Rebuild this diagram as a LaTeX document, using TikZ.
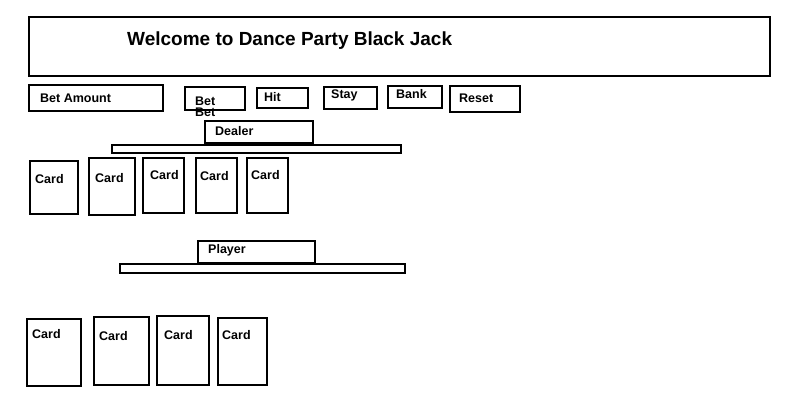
\documentclass[tikz,border=0pt]{standalone}
\usepackage{fontspec}
\setmainfont{Liberation Sans}
\begin{document}
\begin{tikzpicture}[x=1pt,y=-1pt,
  frame/.style={draw=black,line width=1.8pt,inner sep=0pt,outer sep=0pt,anchor=north west},
  lbl/.style={font=\bfseries\fontsize{12.5}{13}\selectfont,inner sep=0pt,anchor=west},
  ttl/.style={font=\bfseries\fontsize{19}{21}\selectfont,inner sep=0pt,anchor=west}]
\useasboundingbox[fill=white] (0,0) rectangle (800,400);
\newcommand\mybox[5]{\node[frame,minimum width={#4-#2},minimum height={#5-#3}] (#1) at (#2,#3) {};}
% title
\mybox{title}{29}{17}{770}{76}
\node[ttl] (titletext) at (127,41) {Welcome to Dance Party Black Jack};
% controls
\mybox{betamt}{29}{85}{163}{111}
\node[lbl] (betamttext) at (40,98) {Bet Amount};
\mybox{bet}{185}{87}{245}{110}
\node[lbl] (bettext) at (195,101) {Bet};
\node[lbl] (bettext2) at (195,112) {Bet};
\mybox{hit}{257}{88}{308}{108}
\node[lbl] (hittext) at (264,97) {Hit};
\mybox{stay}{324}{87}{377}{109}
\node[lbl] (staytext) at (331,95) {Stay};
\mybox{bank}{388}{86}{442}{108}
\node[lbl] (banktext) at (396,94) {Bank};
\mybox{reset}{450}{86}{520}{112}
\node[lbl] (resettext) at (459,98) {Reset};
% dealer
\mybox{dealer}{205}{121}{313}{143}
\node[lbl] (dealertext) at (215,131) {Dealer};
\mybox{dealerbar}{112}{145}{401}{153}
\mybox{dc1}{30}{161}{78}{214}
\node[lbl] (dc1t) at (35,179) {Card};
\mybox{dc2}{89}{158}{135}{215}
\node[lbl] (dc2t) at (95,178) {Card};
\mybox{dc3}{143}{158}{184}{213}
\node[lbl] (dc3t) at (150,175) {Card};
\mybox{dc4}{196}{158}{237}{213}
\node[lbl] (dc4t) at (200,176) {Card};
\mybox{dc5}{247}{158}{288}{213}
\node[lbl] (dc5t) at (251,175) {Card};
% player
\mybox{player}{198}{241}{315}{263}
\node[lbl] (playertext) at (208,250) {Player};
\mybox{playerbar}{120}{264}{405}{273}
\mybox{pc1}{27}{319}{81}{386}
\node[lbl] (pc1t) at (32,334) {Card};
\mybox{pc2}{94}{317}{149}{385}
\node[lbl] (pc2t) at (99,336) {Card};
\mybox{pc3}{157}{316}{209}{385}
\node[lbl] (pc3t) at (164,335) {Card};
\mybox{pc4}{218}{318}{267}{385}
\node[lbl] (pc4t) at (222,335) {Card};
\end{tikzpicture}
\end{document}
